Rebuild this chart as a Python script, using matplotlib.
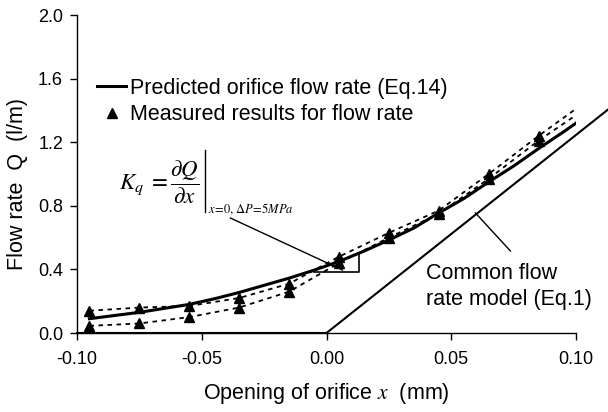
import matplotlib
matplotlib.use("Agg")
import matplotlib.pyplot as plt
from matplotlib.lines import Line2D

plt.rcParams['font.family'] = ['Liberation Sans', 'DejaVu Sans']
plt.rcParams['mathtext.fontset'] = 'stix'

# ---- data ----
x_pred = [-0.095, -0.085, -0.075, -0.065, -0.055, -0.045, -0.035, -0.025, -0.015, -0.005,
          0.005, 0.015, 0.025, 0.035, 0.045, 0.055, 0.065, 0.075, 0.085, 0.095, 0.10]
q_pred = [0.09, 0.11, 0.13, 0.155, 0.18, 0.215, 0.255, 0.30, 0.345, 0.395,
          0.45, 0.515, 0.585, 0.66, 0.755, 0.845, 0.95, 1.05, 1.16, 1.265, 1.32]

x_meas = [-0.095, -0.075, -0.055, -0.035, -0.015, 0.005, 0.025, 0.045, 0.065, 0.085]
q_meas_upper = [0.14, 0.16, 0.17, 0.22, 0.31, 0.48, 0.63, 0.77, 1.00, 1.24]
q_meas_lower = [0.045, 0.06, 0.10, 0.16, 0.26, 0.44, 0.60, 0.75, 0.97, 1.21]

x_trend = x_meas + [0.10]
q_trend_upper = q_meas_upper + [1.41]
q_trend_lower = q_meas_lower + [1.37]

x_common = [-0.10, 0.0, 0.114]
q_common = [0.0, 0.0, 1.42]

x_ticks = [-0.10, -0.05, 0.00, 0.05, 0.10]
y_ticks = [0.0, 0.4, 0.8, 1.2, 1.6, 2.0]

# ---- figure ----
fig = plt.figure(figsize=(6.08, 4.12), dpi=100)
ax = fig.add_axes([77/608, 1 - 333/412, (576-77)/608, (333-15)/412])

ax.plot(x_trend, q_trend_upper, color='black', lw=1.3, ls=(0, (2.5, 2.5)))
ax.plot(x_trend, q_trend_lower, color='black', lw=1.3, ls=(0, (2.5, 2.5)))
ax.plot(x_meas, q_meas_upper, ls='none', marker='^', ms=7, color='black')
ax.plot(x_meas, q_meas_lower, ls='none', marker='^', ms=7, color='black')
ax.plot(x_pred, q_pred, color='black', lw=2.2)
ax.plot(x_common, q_common, color='black', lw=1.5, clip_on=False, zorder=5)

# slope triangle
ax.plot([-0.0052, 0.0132, 0.0132], [0.384, 0.384, 0.503], color='black', lw=1.2)

ax.set_xlim(-0.10, 0.10)
ax.set_ylim(0.0, 2.0)
ax.set_xticks(x_ticks)
ax.set_xticklabels([f"{v:.2f}" for v in x_ticks])
ax.set_yticks(y_ticks)
ax.set_yticklabels([f"{v:.1f}" for v in y_ticks])
ax.tick_params(direction='out', length=5, width=1, labelsize=13)
ax.tick_params(axis='x', pad=8)
ax.tick_params(axis='y', pad=5)
ax.spines['top'].set_visible(False)
ax.spines['right'].set_visible(False)
ax.spines['left'].set_linewidth(1)
ax.spines['bottom'].set_linewidth(1)

ax.set_xlabel(r'Opening of orifice $\mathit{x}$  (mm)', fontsize=15.5, labelpad=9)
ax.set_ylabel('Flow rate  Q  (l/m)', fontsize=15.5)
ax.yaxis.set_label_coords(-0.098, 0.47)

# legend
handles = [Line2D([], [], color='black', lw=2.2),
           Line2D([], [], color='black', ls='none', marker='^', ms=7)]
leg = fig.legend(handles, ['Predicted orifice flow rate (Eq.14)', 'Measured results for flow rate'],
                 loc='upper left', bbox_to_anchor=(97/608, 1 - 78/412), frameon=False,
                 fontsize=15.5, handlelength=1.35, handletextpad=0.2, labelspacing=0.25,
                 borderpad=0, borderaxespad=0)

# Kq formula
ax.text(-0.0830, 0.950, r'$K_q\;=\dfrac{\partial Q}{\partial x}$',
        fontsize=16.5, ha='left', va='center')
ax.plot([-0.0485, -0.0485], [1.151, 0.761], color='black', lw=1)
ax.text(-0.0473, 0.755, r'$x\!=\!0,\,\Delta P\!=\!5MPa$', fontsize=9, ha='left', va='baseline')
ax.plot([-0.0385, 0.0064], [0.723, 0.396], color='black', lw=1)

# common model label
ax.text(0.040, 0.290, 'Common flow\nrate model (Eq.1)', fontsize=15.5, ha='left', va='center',
        linespacing=1.3)
ax.plot([0.0597, 0.0737], [0.755, 0.516], color='black', lw=1)

fig.savefig('out.png', dpi=100)
